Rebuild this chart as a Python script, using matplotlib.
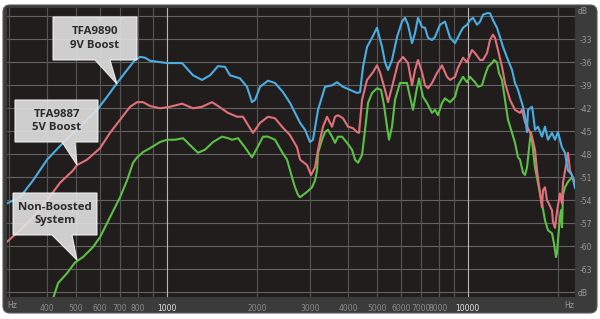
import matplotlib
matplotlib.use('Agg')
import matplotlib.pyplot as plt
from matplotlib.patches import FancyBboxPatch, Polygon
from matplotlib.transforms import IdentityTransform
from matplotlib.ticker import NullLocator


# ---- values (Hz, dB) ----
freq_blue = [294.7, 325.6, 359.6, 400.2, 452.5, 515.2, 586.7, 633.4, 683.8, 738.2,
             784.7, 815.3, 847.1, 880.1, 1002, 1124, 1223, 1310, 1393, 1480,
             1562, 1623, 1752, 1848, 1920, 1965, 2042, 2170, 2290, 2434,
             2568, 2773, 2881, 2993, 3062, 3182, 3357, 3542, 3680, 3852,
             4064, 4288, 4388, 4489, 4629, 4810, 4996, 5192, 5312, 5436,
             5604, 5823, 6049, 6189, 6333, 6531, 6682, 6837, 7050, 7213,
             7381, 7609, 7786, 8090, 8405, 8738, 9076, 9430, 9647, 9947,
             10177, 10414, 10737, 10987, 11240, 11590, 11859, 12134, 12511, 12800,
             13101, 13612, 14036, 14361, 14694, 14922, 15267, 15503, 15741, 15861,
             16353, 16478, 16733, 17121, 17652, 18062, 18481, 19055, 19498, 19950,
             20569, 21048, 21533, 22207, 22725]
db_blue = [-54.4, -53.6, -51.4, -48.7, -46.5, -44.4, -42.2, -40.5, -38.7, -37.0,
           -35.7, -35.3, -35.4, -35.8, -36.1, -36.1, -37.7, -38.3, -37.7, -36.5,
           -36.6, -37.7, -38.1, -39.2, -41.2, -40.9, -39.2, -38.4, -38.7, -39.9,
           -41.3, -43.9, -44.8, -46.4, -46.1, -42.2, -39.2, -39.0, -38.6, -39.2,
           -39.6, -40.0, -39.9, -36.6, -34.0, -32.8, -31.5, -34.0, -36.0, -37.0,
           -35.7, -32.7, -30.7, -30.2, -31.1, -33.5, -32.2, -30.2, -31.4, -31.5,
           -32.8, -33.1, -32.7, -31.1, -30.7, -32.8, -33.5, -32.2, -31.5, -31.1,
           -30.5, -30.2, -31.1, -30.7, -29.8, -29.6, -29.6, -30.5, -31.5, -32.7,
           -34.0, -35.7, -37.0, -38.7, -39.6, -40.5, -41.8, -43.1, -45.1, -42.2,
           -41.8, -42.6, -44.8, -44.4, -45.7, -44.4, -46.1, -45.2, -46.1, -45.1,
           -47.1, -47.8, -50.1, -50.7, -52.4]

freq_red = [294.7, 325.6, 359.6, 400.2, 442.2, 488.4, 503.5, 543.5, 600.3, 648.0,
            699.7, 755.3, 796.7, 834.3, 880.1, 950.0, 1025, 1124, 1223, 1310,
            1414, 1480, 1598, 1712, 1792, 1891, 1935, 2042, 2170, 2290,
            2416, 2568, 2710, 2773, 2925, 3016, 3110, 3182, 3231, 3306,
            3409, 3488, 3542, 3624, 3708, 3852, 4003, 4158, 4288, 4354,
            4455, 4629, 4847, 4996, 5112, 5312, 5436, 5647, 5867, 6095,
            6333, 6531, 6682, 6837, 7050, 7213, 7381, 7609, 7906, 8214,
            8535, 8738, 9076, 9287, 9647, 9947, 10334, 10574, 10987, 11240,
            11590, 11859, 12134, 12320, 12606, 13002, 13303, 13821, 14361, 14922,
            15151, 15503, 15861, 16353, 16733, 16991, 17385, 17652, 17787, 18062,
            18340, 18481, 19055, 19201, 19498, 19798, 20257, 20569, 20728, 21372,
            21533, 21870, 22725]
db_red = [-59.4, -57.9, -56.2, -54.0, -51.7, -50.1, -49.4, -48.7, -47.2, -45.2,
          -43.5, -41.8, -41.2, -41.2, -41.7, -42.0, -41.8, -41.4, -42.0, -41.8,
          -41.2, -41.7, -42.6, -43.1, -43.1, -44.6, -45.2, -43.9, -43.1, -43.3,
          -44.4, -45.5, -47.1, -48.7, -49.4, -50.7, -49.7, -47.4, -46.1, -44.4,
          -43.1, -43.9, -44.4, -43.1, -42.9, -43.3, -44.4, -44.6, -45.1, -45.2,
          -40.9, -38.3, -37.3, -36.4, -37.3, -39.6, -41.2, -38.7, -36.1, -35.3,
          -36.1, -39.0, -37.0, -35.7, -37.3, -39.0, -39.4, -38.7, -37.4, -36.4,
          -37.9, -38.3, -37.9, -36.7, -35.4, -36.0, -34.4, -34.8, -35.7, -35.7,
          -34.8, -33.1, -32.4, -32.8, -34.4, -36.6, -38.7, -40.9, -42.2, -42.6,
          -42.2, -43.8, -44.6, -45.7, -47.4, -50.1, -53.1, -54.9, -52.7, -52.3,
          -54.0, -54.2, -55.3, -56.8, -57.6, -55.5, -53.1, -54.4, -51.7, -48.7,
          -47.8, -50.1, -51.7]

freq_green = [419.1, 435.5, 466.6, 495.9, 527.1, 569.0, 600.3, 648.0, 699.7, 738.2,
              772.7, 796.7, 834.3, 880.1, 950.0, 1002, 1066, 1133, 1195, 1270,
              1340, 1425, 1526, 1598, 1648, 1725, 1820, 1920, 1995, 2089,
              2170, 2290, 2416, 2510, 2608, 2668, 2731, 2773, 2925, 3039,
              3110, 3158, 3182, 3281, 3357, 3435, 3542, 3624, 3708, 3823,
              3972, 4127, 4223, 4321, 4455, 4559, 4665, 4810, 4996, 5152,
              5272, 5394, 5477, 5604, 5734, 5957, 6284, 6431, 6581, 6733,
              6890, 7104, 7325, 7609, 7786, 7967, 8214, 8405, 8738, 9076,
              9287, 9647, 9947, 10177, 10574, 10819, 11155, 11414, 11678, 12042,
              12227, 12511, 12702, 13002, 13303, 13612, 14036, 14361, 14694, 14922,
              15267, 15503, 15741, 16106, 16229, 16478, 16733, 17121, 17652, 18062,
              18481, 19055, 19348, 19647, 19798, 19950, 20257, 20417, 20569, 20728,
              21048, 21533, 22207, 22725]
db_green = [-66.8, -64.8, -63.5, -62.1, -61.4, -60.1, -58.8, -56.2, -53.6, -51.4,
            -49.1, -48.4, -47.7, -47.2, -46.4, -46.1, -46.1, -45.9, -46.8, -47.8,
            -47.4, -46.4, -45.7, -45.9, -46.1, -45.9, -47.1, -48.4, -47.2, -45.7,
            -45.7, -46.1, -47.7, -48.7, -51.0, -52.3, -53.3, -53.6, -52.9, -52.3,
            -51.4, -50.1, -47.8, -46.1, -45.1, -44.8, -45.7, -46.5, -45.7, -45.7,
            -46.5, -47.4, -48.7, -49.1, -48.1, -44.8, -41.3, -40.0, -39.4, -39.6,
            -41.6, -44.4, -46.1, -44.4, -40.9, -38.7, -38.7, -40.5, -42.2, -40.0,
            -38.1, -40.5, -41.3, -42.6, -42.2, -42.9, -41.3, -40.7, -41.2, -40.5,
            -39.0, -37.9, -38.6, -37.9, -38.6, -39.2, -39.0, -37.7, -36.6, -36.1,
            -35.7, -36.0, -37.4, -38.3, -40.9, -43.5, -45.2, -46.5, -48.4, -48.7,
            -50.4, -50.7, -49.7, -46.1, -45.1, -47.4, -49.7, -51.7, -54.4, -56.6,
            -57.9, -58.3, -59.6, -61.4, -60.9, -59.2, -56.2, -55.3, -57.5, -53.3,
            -52.3, -51.6, -51.0, -51.6]

grid_db = list(range(-66, -29, 3))
ytick_db = list(range(-63, -32, 3))
grid_hz = [300, 400, 500, 600, 700, 800, 900, 2000, 3000, 4000, 5000, 6000, 7000, 8000, 9000, 20000]
grid_hz_bright = [1000, 10000]
xtick_hz = [400, 500, 600, 700, 800, 1000, 2000, 3000, 4000, 5000, 6000, 7000, 8000, 10000]

W, H = 600, 319
BG = '#211d1d'
FRAME = '#3b3b3b'


def fig_xy(x, y):
    # picture pixels (from top-left) -> figure fraction
    return x / W, 1 - y / H


fig = plt.figure(figsize=(W / 100, H / 100), dpi=100)
fig.patch.set_facecolor('white')

frame = FancyBboxPatch((3, 6), 594, 308, boxstyle='round,pad=0,rounding_size=7',
                       transform=IdentityTransform(), facecolor=FRAME,
                       edgecolor='#5a5a5a', linewidth=0.8, zorder=-5)
fig.patches.append(frame)

ax = fig.add_axes([7 / W, 22 / H, 568 / W, 289 / H])
ax.set_zorder(1)
ax.set_facecolor(BG)
ax.set_xscale('log')
ax.set_xlim(294.6, 22725)
ax.set_ylim(-66.61, -28.92)
for s in ax.spines.values():
    s.set_visible(False)

for v in grid_db:
    ax.axhline(v, color='#626262', lw=0.8, zorder=1)
for f in grid_hz:
    ax.axvline(f, color='#555555', lw=0.8, zorder=1)
for f in grid_hz_bright:
    ax.axvline(f, color='#b8b8b8', lw=0.8, zorder=1)

ax.plot(freq_green, db_green, color='#5cc046', lw=1.5, zorder=3, solid_joinstyle='round')
ax.plot(freq_red, db_red, color='#e2707a', lw=1.5, zorder=4, solid_joinstyle='round')
ax.plot(freq_blue, db_blue, color='#4aaee2', lw=1.5, zorder=5, solid_joinstyle='round')

ax.set_xticks(xtick_hz)
ax.set_xticklabels([str(f) for f in xtick_hz])
ax.xaxis.set_minor_locator(NullLocator())
ax.tick_params(axis='x', length=0, pad=5, labelsize=5.5, labelcolor='#8c8c8c')
for lab, f in zip(ax.get_xticklabels(), xtick_hz):
    if f in grid_hz_bright:
        lab.set_color('#e6e6e6')

ax.yaxis.tick_right()
ax.set_yticks(ytick_db)
ax.set_yticklabels([str(v) for v in ytick_db])
ax.tick_params(axis='y', length=0, pad=3, labelsize=5.5, labelcolor='#9a9a9a')

fig.text(*fig_xy(12, 305), 'Hz', fontsize=5.5, color='#9a9a9a', ha='center', va='center')
fig.text(*fig_xy(569, 305), 'Hz', fontsize=5.5, color='#9a9a9a', ha='center', va='center')
fig.text(*fig_xy(578, 12), 'dB', fontsize=5.5, color='#9a9a9a', ha='left', va='center')
fig.text(*fig_xy(578, 294), 'dB', fontsize=5.5, color='#9a9a9a', ha='left', va='center')

# callout boxes (outline in picture pixels)
callouts = [
    ([(53, 17), (137, 17), (137, 60), (110, 60), (117, 84), (95, 60), (53, 60)],
     (95, 38.5), 'TFA9890\n9V Boost'),
    ([(15, 100), (98, 100), (98, 142), (75, 142), (77, 165), (62, 142), (15, 142)],
     (56.5, 121), 'TFA9887\n5V Boost'),
    ([(13, 193), (97, 193), (97, 235), (72, 235), (77, 260), (52, 235), (13, 235)],
     (55, 214), 'Non-Boosted\nSystem'),
]
for pts, centre, label in callouts:
    poly = Polygon([fig_xy(x, y) for x, y in pts], closed=True,
                   transform=fig.transFigure, facecolor='#e2e2e2', alpha=0.9,
                   edgecolor='#f4f4f4', linewidth=0.8, zorder=10)
    fig.patches.append(poly)
    fig.text(*fig_xy(*centre), label, ha='center', va='center', fontsize=8.2,
             fontweight='bold', family='Open Sans', color='#2b2b2b',
             linespacing=1.3, zorder=11)

fig.savefig('out.png', dpi=100, facecolor=fig.get_facecolor())
